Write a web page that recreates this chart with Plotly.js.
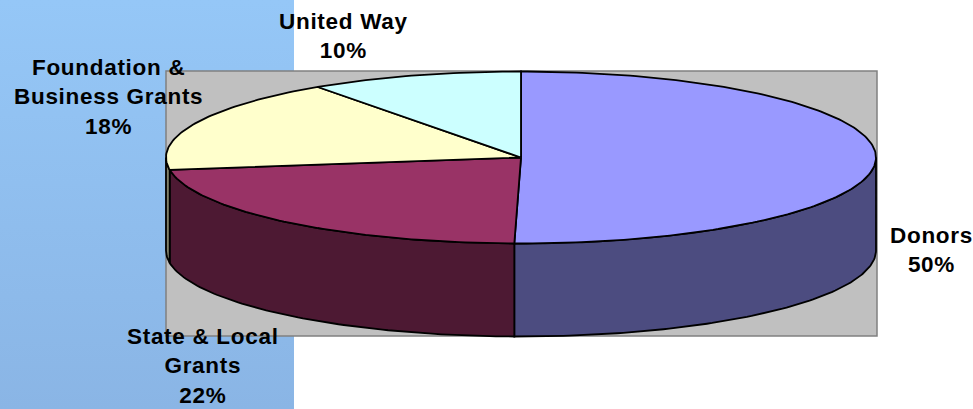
<!DOCTYPE html>
<html>
<head>
<meta charset="utf-8">
<script src="https://cdn.plot.ly/plotly-3.0.1.min.js"></script>
<style>
  html, body { margin: 0; padding: 0; background: #ffffff; }
  #wrap { width: 973px; height: 409px; position: relative;
    background: linear-gradient(#95C7F7, #8AB5E5) 0 0 / 294px 100% no-repeat, #ffffff; }
  #chart { width: 973px; height: 409px; }
  .annotation-text { letter-spacing: 0.7px; }
</style>
</head>
<body>
<div id="wrap"><div id="chart"></div></div>
<script>
// ---- data ----
const categories = ['Donors', 'State & Local Grants', 'Foundation & Business Grants', 'United Way'];
const values = [50.3, 22.4, 17.6, 9.7];
const labelLines = ['Donors', 'State & Local<br>Grants', 'Foundation &<br>Business Grants', 'United Way'];

// ---- styles ----
const topColors = ['#9999FF', '#993366', '#FFFFCC', '#CCFFFF'];
const sideColors = ['#4C4C80', '#4D1933', '#80806A', '#668080'];
const labelPos = [[931, 250], [203, 366], [108, 97], [343, 36]];

// 3D pie geometry (pixel space)
const cx = 521, cy = 157.5, rx = 355, ry = 86, depth = 93;

function pt(deg, dz) {
  const r = deg * Math.PI / 180;
  return [cx + rx * Math.sin(r), cy - ry * Math.cos(r) + (dz || 0)];
}

const total = values.reduce((a, b) => a + b, 0);
const slices = [];
let cum = 0;
values.forEach((v, i) => {
  const a = cum / total * 360;
  cum += v;
  const b = cum / total * 360;
  slices.push({ a, b, i });
});

const traces = [];
// side walls (front half: 90..270 deg)
slices.forEach(s => {
  const a = Math.max(s.a, 90), b = Math.min(s.b, 270);
  if (b <= a) return;
  const xs = [], ys = [];
  const n = Math.max(2, Math.ceil(b - a));
  for (let k = 0; k <= n; k++) { const p = pt(a + (b - a) * k / n, 0); xs.push(p[0]); ys.push(p[1]); }
  for (let k = n; k >= 0; k--) { const p = pt(a + (b - a) * k / n, depth); xs.push(p[0]); ys.push(p[1]); }
  xs.push(xs[0]); ys.push(ys[0]);
  traces.push({ type: 'scatter', mode: 'lines', x: xs, y: ys, fill: 'toself',
    fillcolor: sideColors[s.i], line: { color: '#000000', width: 1.8 }, hoverinfo: 'skip', showlegend: false });
});
// top faces
slices.forEach(s => {
  const xs = [cx], ys = [cy];
  const n = Math.max(2, Math.ceil(s.b - s.a));
  for (let k = 0; k <= n; k++) { const p = pt(s.a + (s.b - s.a) * k / n, 0); xs.push(p[0]); ys.push(p[1]); }
  xs.push(cx); ys.push(cy);
  traces.push({ type: 'scatter', mode: 'lines', x: xs, y: ys, fill: 'toself',
    fillcolor: topColors[s.i], line: { color: '#000000', width: 1.8 }, hoverinfo: 'skip',
    showlegend: false, name: categories[s.i] });
});

const annotations = values.map((v, i) => ({
  x: labelPos[i][0], y: labelPos[i][1], xref: 'x', yref: 'y',
  text: labelLines[i] + '<br>' + Math.round(v / total * 100) + '%',
  showarrow: false, xanchor: 'center', yanchor: 'middle', align: 'center',
  font: { family: 'Liberation Sans, Arial, sans-serif', size: 22.5, color: '#000000', weight: 'bold' }
}));

const layout = {
  width: 973, height: 409,
  margin: { l: 0, r: 0, t: 0, b: 0 },
  paper_bgcolor: 'rgba(0,0,0,0)', plot_bgcolor: 'rgba(0,0,0,0)',
  xaxis: { range: [0, 973], visible: false, fixedrange: true },
  yaxis: { range: [409, 0], visible: false, fixedrange: true },
  shapes: [{ type: 'rect', xref: 'x', yref: 'y', x0: 166, x1: 877, y0: 71, y1: 336,
    fillcolor: '#C0C0C0', line: { color: '#808080', width: 1.5 }, layer: 'below' }],
  annotations: annotations,
  showlegend: false
};

Plotly.newPlot('chart', traces, layout, { staticPlot: true, displayModeBar: false });
</script>
</body>
</html>
